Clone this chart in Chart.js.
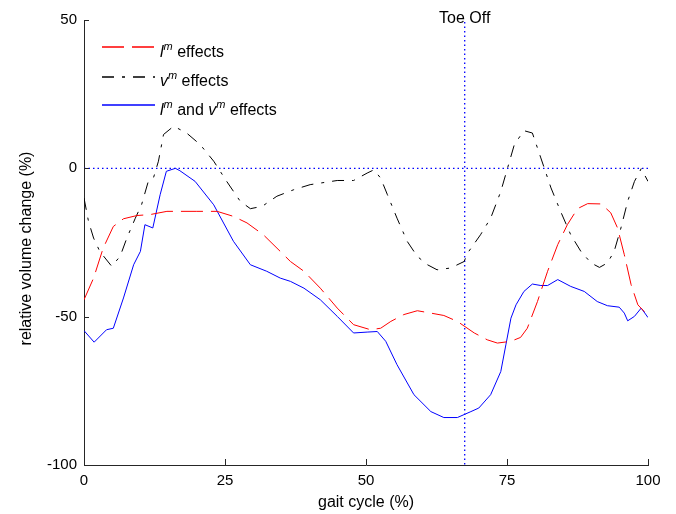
<!DOCTYPE html>
<html>
<head>
<meta charset="utf-8">
<script src="https://cdn.jsdelivr.net/npm/chart.js@4.4.1/dist/chart.umd.min.js"></script>
<style>
  html, body { margin: 0; padding: 0; background: #fff; }
  #wrap { width: 676px; height: 514px; }
</style>
</head>
<body>
<div id="wrap"><canvas id="myChart" width="676" height="514"></canvas></div>
<script>
// gait cycle (%) positions and relative volume change (%) values
const lmX = [0, 1.7, 3.4, 5.2, 7, 9.4, 11.7, 14.7, 17, 20, 23.6, 26.5, 28.9, 31.8, 34.8, 36.6, 39, 41.9, 44.9, 47.8, 50.8, 52.6, 54.4, 56.7, 59.1, 61.5, 63.8, 66.2, 69.2, 71.5, 73.3, 75.7, 77.4, 78.6, 80.4, 82.2, 84, 85.7, 87.5, 89.3, 91.7, 93.4, 94.6, 95.8, 97, 98.2, 99.3, 100];
const lmY = [-44.3, -37, -26.9, -19.6, -17, -15.9, -15.6, -14.5, -14.5, -14.5, -14.5, -16.2, -18.4, -22.4, -28, -31.4, -34.7, -40.4, -47.1, -52.7, -54.4, -53.9, -51.6, -49.3, -48, -48.8, -49.6, -51.6, -55.5, -57.8, -58.9, -58.3, -57, -53.9, -44.9, -34.7, -25.7, -19, -13.6, -11.9, -12, -15, -20.1, -29.1, -39.2, -46, -48.2, -49.5];

const vmX = [0, 0.8, 1.7, 2.8, 4.9, 6.4, 7.6, 9.1, 10.2, 11.4, 12.3, 13.2, 14.1, 15.9, 18.2, 20.6, 23, 25.3, 27.7, 29.5, 31.6, 34.2, 37.2, 40.1, 44.9, 47.8, 50.2, 51.4, 52.6, 53.8, 55.5, 57.3, 59.1, 60.9, 62.6, 65, 67.4, 68, 70.3, 72.1, 73.9, 75.1, 76.3, 78, 79.5, 81, 82.8, 84.5, 86.3, 88.1, 89.9, 91.4, 92.8, 94, 95.2, 96.4, 97.6, 98.8, 100];
const vmY = [-10, -17.9, -23.5, -28, -33, -29.7, -23.5, -16.8, -12.3, -4.4, -3.3, 2.4, 11.4, 14.2, 11.9, 8, 2.4, -4.4, -11.1, -13.6, -12.8, -9.4, -7.2, -5.5, -4.1, -4.1, -1.6, -0.5, -3.3, -8.9, -16.8, -24.6, -29.7, -32.5, -34.2, -33.6, -31.4, -28.6, -22.4, -16.8, -7.8, 0.1, 8, 12.7, 11.9, 3.5, -6.6, -14.5, -22.4, -28, -31.9, -33.4, -31.9, -28, -20.1, -11.1, -4.4, -0.1, -4.4];

const bothX = [0, 1.8, 4, 5.2, 7, 8.8, 10, 10.8, 12.2, 13.5, 14.6, 16.2, 17, 19.7, 23, 26.5, 29.5, 32.4, 34.8, 36.6, 39, 41.9, 44.9, 47.8, 50.2, 52, 53.5, 55.5, 58.5, 61.5, 63.8, 66.2, 68.6, 70, 72.1, 73.9, 74.8, 75.7, 76.6, 78, 79.5, 81, 82.2, 84, 86.3, 88.7, 91, 92.8, 94.9, 95.8, 96.4, 97.6, 98.8, 100];
const bothY = [-54.7, -58.6, -54.4, -53.9, -43.7, -32.5, -28, -19, -20.1, -8.9, -1, 0, -0.8, -4.4, -12.3, -24.6, -32.5, -34.7, -37, -38.1, -40.4, -44.3, -49.9, -55.5, -55.2, -55, -58.3, -66.2, -76.3, -82, -84, -84, -82, -80.8, -76.3, -68.5, -59.5, -50.5, -46, -41.5, -39, -39.5, -39.5, -37.5, -39.8, -41.5, -44.9, -46.3, -46.8, -48.8, -51.4, -49.9, -47.1, -50.3];

const xTicks = [0, 25, 50, 75, 100];
const yTicks = [-100, -50, 0, 50];
const toeOff = 67.5;

const FONT = "'Liberation Sans', Arial, sans-serif";

function toPoints(xs, ys) {
    return xs.map((x, i) => ({ x: x, y: ys[i] }));
}

// legend rows: pieces of text, with italic letters and superscript m
const legendRows = [
    { color: "rgb(255, 0, 0)", dash: [22, 8], parts: [["l", "i"], ["m", "s"], [" effects", "n"]] },
    { color: "rgb(0, 0, 0)", dash: [12, 8, 3, 8], parts: [["v", "i"], ["m", "s"], [" effects", "n"]] },
    { color: "rgb(0, 0, 255)", dash: [], parts: [["l", "i"], ["m", "s"], [" and ", "n"], ["v", "i"], ["m", "s"], [" effects", "n"]] }
];

function drawSegment(c, color, dash, x1, y1, x2, y2) {
    c.save();
    c.strokeStyle = color;
    c.lineWidth = 1.3;
    c.setLineDash(dash);
    c.beginPath();
    c.moveTo(x1, y1);
    c.lineTo(x2, y2);
    c.stroke();
    c.restore();
}

const extras = {
    id: "extras",
    beforeDatasetsDraw(chart) {
        const { ctx, chartArea, scales } = chart;
        const x = scales.x, y = scales.y;
        const zy = y.getPixelForValue(0);
        const tx = x.getPixelForValue(toeOff);
        drawSegment(ctx, "rgb(0, 0, 255)", [1.5, 3], chartArea.left, zy, chartArea.right, zy);
        drawSegment(ctx, "rgb(0, 0, 255)", [1.5, 3], tx, chartArea.top + 2, tx, chartArea.bottom);
    },
    afterDraw(chart) {
        const { ctx, chartArea, scales } = chart;
        const x = scales.x, y = scales.y;
        ctx.save();
        // inward ticks
        ctx.strokeStyle = "#262626";
        ctx.lineWidth = 1;
        ctx.setLineDash([]);
        ctx.beginPath();
        yTicks.forEach(v => {
            const py = Math.round(y.getPixelForValue(v)) + 0.5;
            ctx.moveTo(chartArea.left, py);
            ctx.lineTo(chartArea.left + 5, py);
        });
        xTicks.forEach(v => {
            const px = Math.round(x.getPixelForValue(v)) + 0.5;
            ctx.moveTo(px, chartArea.bottom);
            ctx.lineTo(px, chartArea.bottom - 6);
        });
        ctx.stroke();

        // Toe Off label
        ctx.fillStyle = "#000";
        ctx.font = "16px " + FONT;
        ctx.textAlign = "center";
        ctx.textBaseline = "alphabetic";
        ctx.fillText("Toe Off", x.getPixelForValue(toeOff), 23);

        // axis titles
        ctx.font = "16px " + FONT;
        ctx.fillText("gait cycle (%)", (chartArea.left + chartArea.right) / 2, 507);
        ctx.save();
        ctx.translate(31, (chartArea.top + chartArea.bottom) / 2 + 6);
        ctx.rotate(-Math.PI / 2);
        ctx.fillText("relative volume change (%)", 0, 0);
        ctx.restore();

        // legend
        const lineY = [47, 77, 105];
        const textY = [57, 86, 115];
        ctx.textAlign = "left";
        legendRows.forEach((row, i) => {
            drawSegment(ctx, row.color, row.dash, 102, lineY[i], 155, lineY[i]);
            let cx = 160;
            ctx.fillStyle = "#000";
            row.parts.forEach(([txt, kind]) => {
                let by = textY[i];
                if (kind === "i") ctx.font = "italic 16px " + FONT;
                else if (kind === "s") { ctx.font = "italic 11px " + FONT; by -= 7; }
                else ctx.font = "16px " + FONT;
                ctx.fillText(txt, cx, by);
                cx += ctx.measureText(txt).width;
            });
        });
        ctx.restore();
    }
};

const ctx = document.getElementById("myChart");
const myChart = new Chart(ctx, {
    type: "line",
    data: {
        datasets: [
            {
                label: "lm effects",
                data: toPoints(lmX, lmY),
                borderColor: "#ff0000",
                borderWidth: 1,
                borderDash: [22, 8],
                pointRadius: 0,
                tension: 0
            },
            {
                label: "vm effects",
                data: toPoints(vmX, vmY),
                borderColor: "#000000",
                borderWidth: 1,
                borderDash: [12, 8, 3, 8],
                pointRadius: 0,
                tension: 0
            },
            {
                label: "lm and vm effects",
                data: toPoints(bothX, bothY),
                borderColor: "#0000ff",
                borderWidth: 1,
                pointRadius: 0,
                tension: 0
            }
        ]
    },
    options: {
        responsive: false,
        animation: false,
        layout: { padding: { top: 20, right: 28, left: 0, bottom: 0 } },
        plugins: {
            legend: { display: false },
            tooltip: { enabled: false }
        },
        scales: {
            x: {
                type: "linear",
                min: 0,
                max: 100,
                afterFit: (s) => { s.height = 49; },
                afterBuildTicks: (s) => { s.ticks = xTicks.map(v => ({ value: v })); },
                ticks: { color: "#000", font: { family: FONT, size: 15 }, padding: 7, maxRotation: 0 },
                grid: { drawOnChartArea: false, drawTicks: false },
                border: { display: true, color: "#262626", width: 1 }
            },
            y: {
                min: -100,
                max: 50,
                afterFit: (s) => { s.width = 84; },
                afterBuildTicks: (s) => { s.ticks = yTicks.map(v => ({ value: v })); },
                ticks: { color: "#000", font: { family: FONT, size: 15 }, padding: 7 },
                grid: { drawOnChartArea: false, drawTicks: false },
                border: { display: true, color: "#262626", width: 1 }
            }
        }
    },
    plugins: [extras]
});
</script>
</body>
</html>
